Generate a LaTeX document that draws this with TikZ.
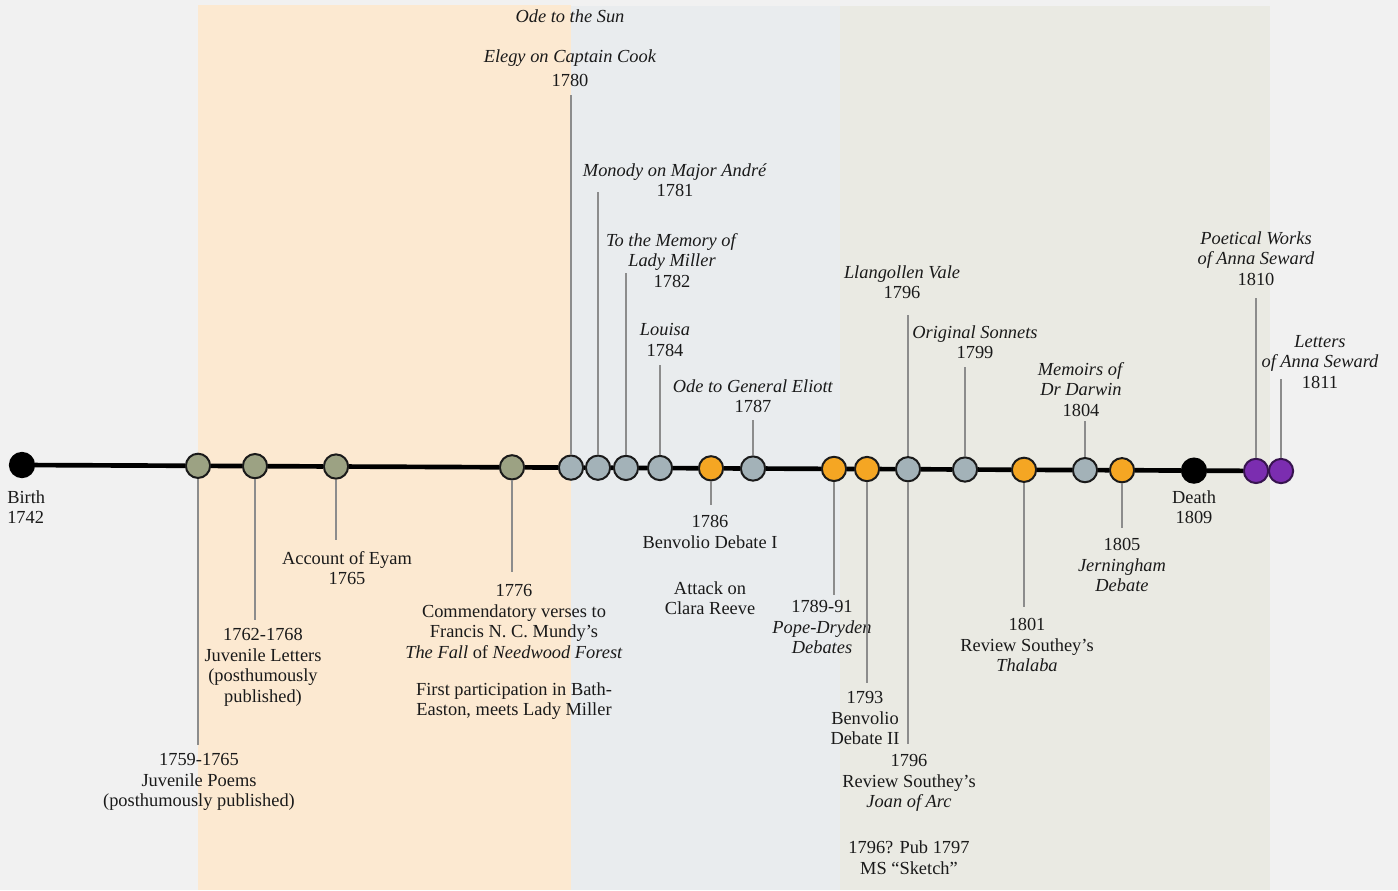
\documentclass[tikz,border=0pt]{standalone}
\usepackage{fontspec}
\setmainfont{Liberation Serif}
\definecolor{bg}{HTML}{F1F1F1}
\definecolor{bandA}{HTML}{FCE9D1}
\definecolor{bandB}{HTML}{E9ECEE}
\definecolor{bandC}{HTML}{EAEAE3}
\definecolor{cgreen}{HTML}{9CA283}
\definecolor{cblue}{HTML}{A3B2B8}
\definecolor{corange}{HTML}{F5A623}
\definecolor{cpurple}{HTML}{7B2DB0}
\definecolor{ink}{HTML}{1A1A1A}
\definecolor{stemc}{HTML}{8C8C8C}
\begin{document}
\begin{tikzpicture}[x={(0.75pt,0)}, y={(0,-0.75pt)},
  dot/.style={circle, draw=ink, line width=1.5pt, minimum size=18.2pt, inner sep=0pt},
  gdot/.style={dot, fill=cgreen},
  bdot/.style={dot, fill=cblue},
  odot/.style={dot, fill=corange},
  pdot/.style={dot, fill=cpurple, draw=cpurple!45!black},
  kdot/.style={dot, fill=black, draw=black},
  timeline/.style={line width=3.5pt, draw=black},
  stem/.style={draw=stemc, line width=0.9pt},
  lbl/.style={font=\fontsize{13.8}{15.5}\selectfont, text=ink, align=center, inner sep=0pt, anchor=north}]
\useasboundingbox (0,0) rectangle (1398,890);
\fill[bg] (0,0) rectangle (1398,890);
\fill[bandA] (198,5) rectangle (571,890);
\fill[bandB] (571,6) rectangle (840,890);
\fill[bandC] (840,6) rectangle (1270,890);

% timeline dots
\node[kdot] (birth) at (22,465) {};
\node[gdot] (c1759) at (198,465.8) {};
\node[gdot] (c1762) at (255,466.1) {};
\node[gdot] (c1765) at (336,466.5) {};
\node[gdot] (c1776) at (512,467.3) {};
\node[bdot] (c1780) at (571,467.6) {};
\node[bdot] (c1781) at (598,467.7) {};
\node[bdot] (c1782) at (626,467.9) {};
\node[bdot] (c1784) at (660,468.0) {};
\node[odot] (c1786) at (711,468.3) {};
\node[bdot] (c1787) at (753,468.5) {};
\node[odot] (c1789) at (834,468.9) {};
\node[odot] (c1793) at (867,469.0) {};
\node[bdot] (c1796) at (908,469.2) {};
\node[bdot] (c1799) at (965,469.5) {};
\node[odot] (c1801) at (1024,469.8) {};
\node[bdot] (c1804) at (1085,470.1) {};
\node[odot] (c1805) at (1122,470.2) {};
\node[kdot] (death) at (1194,470.6) {};
\node[pdot] (c1810) at (1256,470.9) {};
\node[pdot] (c1811) at (1281,471) {};

\draw[timeline] (birth) -- (c1759) -- (c1762) -- (c1765) -- (c1776) -- (c1780) -- (c1781) -- (c1782) -- (c1784) -- (c1786) -- (c1787) -- (c1789) -- (c1793) -- (c1796) -- (c1799) -- (c1801) -- (c1804) -- (c1805) -- (death) -- (c1810);

% labels below
\node[lbl, anchor=north west, align=left] (tbirth) at (7,490) {Birth\\1742};
\node[lbl] (tdeath) at (1194,490) {Death\\1809};
\node[lbl] (l1759) at (199,753) {1759-1765\\Juvenile Poems\\(posthumously published)};
\node[lbl] (l1762) at (263,628) {1762-1768\\Juvenile Letters\\(posthumously\\published)};
\node[lbl] (l1765) at (347,551) {Account of Eyam\\1765};
\node[lbl] (l1776) at (514,584) {1776\\Commendatory verses to\\Francis N. C. Mundy’s\\\emph{The Fall} of \emph{Needwood Forest}\\[12pt]First participation in Bath-\\Easton, meets Lady Miller};
\node[lbl] (l1786) at (710,515) {1786\\Benvolio Debate I\\[19pt]Attack on\\Clara Reeve};
\node[lbl] (l1789) at (822,600) {1789-91\\\emph{Pope-Dryden}\\\emph{Debates}};
\node[lbl] (l1793) at (865,691) {1793\\Benvolio\\Debate II};
\node[lbl] (l1796b) at (909,754) {1796\\Review Southey’s\\\emph{Joan of Arc}\\[19pt]1796? Pub 1797\\MS “Sketch”};
\node[lbl] (l1801) at (1027,618) {1801\\Review Southey’s\\\emph{Thalaba}};
\node[lbl] (l1805) at (1122,538) {1805\\\emph{Jerningham}\\\emph{Debate}};

% labels above
\node[lbl] (l1780) at (570,9) {\emph{Ode to the Sun}\\[15pt]\emph{Elegy on Captain Cook}\\[2pt]1780};
\node[lbl] (l1781) at (675,163) {\emph{Monody on Major André}\\1781};
\node[lbl] (l1782) at (672,233) {\emph{To the Memory of}\\\emph{Lady Miller}\\1782};
\node[lbl] (l1784) at (665,323) {\emph{Louisa}\\1784};
\node[lbl] (l1787) at (753,379) {\emph{Ode to General Eliott}\\1787};
\node[lbl] (l1796a) at (902,265) {\emph{Llangollen Vale}\\1796};
\node[lbl] (l1799) at (975,325) {\emph{Original Sonnets}\\1799};
\node[lbl] (l1804) at (1081,362) {\emph{Memoirs of}\\\emph{Dr Darwin}\\1804};
\node[lbl] (l1810) at (1256,231) {\emph{Poetical Works}\\\emph{of Anna Seward}\\1810};
\node[lbl] (l1811) at (1320,335) {\emph{Letters}\\\emph{of Anna Seward}\\1811};

% stems down
\draw[stem] (c1759.south) -- (c1759.south |- 0,745);
\draw[stem] (c1762.south) -- (c1762.south |- 0,620);
\draw[stem] (c1765.south) -- (c1765.south |- 0,540);
\draw[stem] (c1776.south) -- (c1776.south |- 0,572);
\draw[stem] (c1786.south) -- (c1786.south |- 0,505);
\draw[stem] (c1789.south) -- (c1789.south |- 0,595);
\draw[stem] (c1793.south) -- (c1793.south |- 0,683);
\draw[stem] (c1796.south) -- (c1796.south |- 0,744);
\draw[stem] (c1801.south) -- (c1801.south |- 0,607);
\draw[stem] (c1805.south) -- (c1805.south |- 0,528);
% stems up
\draw[stem] (c1780.north) -- (c1780.north |- 0,95);
\draw[stem] (c1781.north) -- (c1781.north |- 0,192);
\draw[stem] (c1782.north) -- (c1782.north |- 0,273);
\draw[stem] (c1784.north) -- (c1784.north |- 0,365);
\draw[stem] (c1787.north) -- (c1787.north |- 0,420);
\draw[stem] (c1796.north) -- (c1796.north |- 0,315);
\draw[stem] (c1799.north) -- (c1799.north |- 0,367);
\draw[stem] (c1804.north) -- (c1804.north |- 0,421);
\draw[stem] (c1810.north) -- (c1810.north |- 0,298);
\draw[stem] (c1811.north) -- (c1811.north |- 0,379);
\end{tikzpicture}
\end{document}
